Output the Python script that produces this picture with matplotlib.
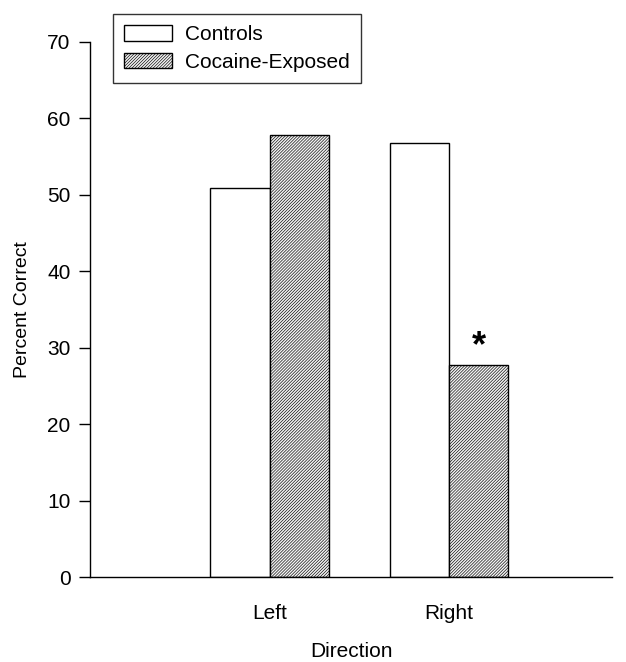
import matplotlib
matplotlib.use('Agg')
import numpy as np
from matplotlib import pyplot as plt

plt.rcParams['font.family'] = ['Liberation Sans', 'DejaVu Sans']
plt.rcParams['hatch.linewidth'] = 0.45
plt.rcParams['hatch.color'] = '#4a4a4a'

directions = ['Left', 'Right']
controls = [50.9, 56.8]
cocaine = [57.8, 27.7]
series_names = ['Controls', 'Cocaine-Exposed']

fig = plt.figure(figsize=(6.26, 6.62), dpi=100)
ax = fig.add_axes([0.144, 0.128, 0.834, 0.809])

x = np.array([1, 2])
w = 0.33
b1 = ax.bar(x - w / 2, controls, w, color='white', edgecolor='black', linewidth=1.0,
            label=series_names[0])
b2 = ax.bar(x + w / 2, cocaine, w, color='#f2f2f2', edgecolor='black', linewidth=1.0,
            hatch='/' * 11, label=series_names[1])

# significance marker
ax.text(x[1] + w / 2, cocaine[1] + 2.4, '*', ha='center', va='center',
        fontsize=26, fontweight='bold')

ax.set_xlim(0, 2.91)
ax.set_ylim(0, 70)
ax.set_yticks(range(0, 71, 10))
ax.set_xticks(x)
ax.set_xticklabels(directions)
ax.tick_params(axis='y', length=8, width=1, labelsize=15, pad=6)
ax.tick_params(axis='x', length=0, labelsize=15, pad=19)
for s in ['top', 'right']:
    ax.spines[s].set_visible(False)
ax.spines['left'].set_linewidth(1)
ax.spines['bottom'].set_linewidth(1)

ax.set_ylabel('Percent Correct', fontsize=14, labelpad=12)
ax.set_xlabel('Direction', fontsize=15, labelpad=14)

leg = fig.legend(handles=[b1, b2], loc='upper left', bbox_to_anchor=(0.180, 0.979),
                 borderaxespad=0, fontsize=15, frameon=True, fancybox=False,
                 edgecolor='black', handlelength=2.3, handleheight=0.75,
                 borderpad=0.55, labelspacing=0.4, handletextpad=0.6)
leg.get_frame().set_linewidth(1)

fig.savefig('out.png', dpi=100)
